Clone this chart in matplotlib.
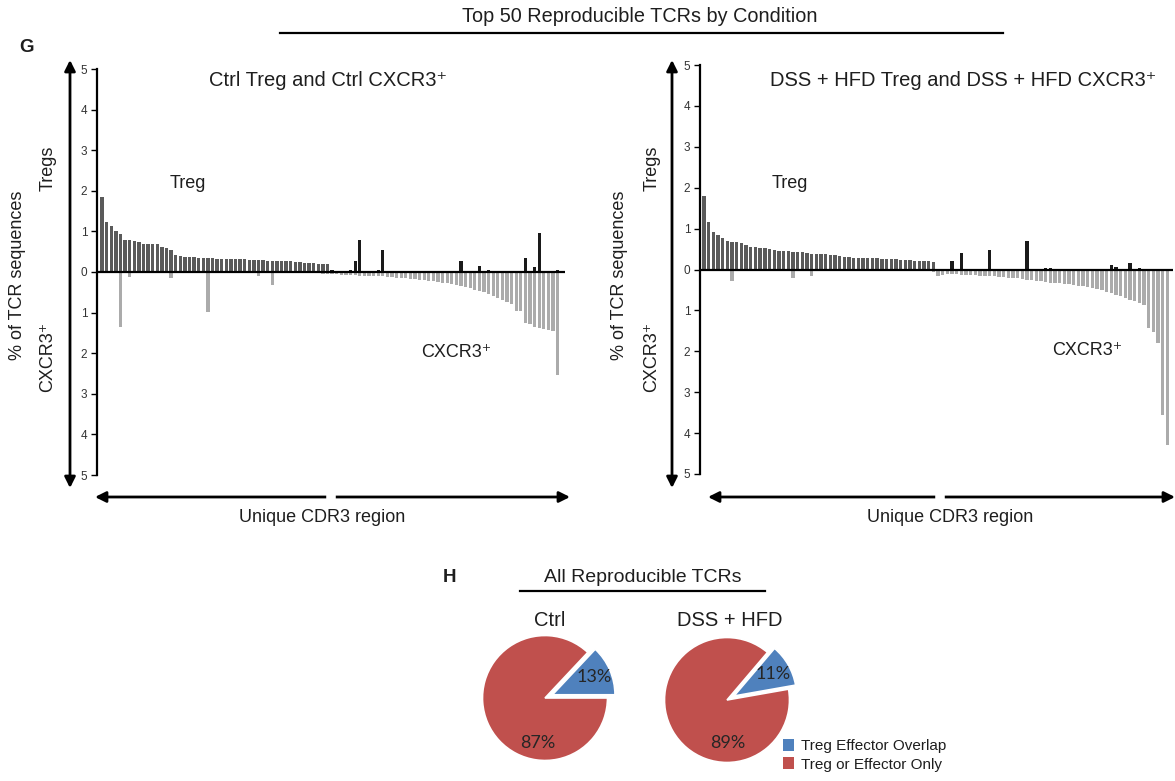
import matplotlib
matplotlib.use("Agg")
import matplotlib.pyplot as plt
from matplotlib.patches import FancyArrowPatch, Patch
from matplotlib.lines import Line2D
import numpy as np

plt.rcParams['font.family'] = ['Liberation Sans', 'DejaVu Sans']

W, H = 1175, 781

# ---------------- data ----------------
# positions 0-49: top 50 Treg clones (sorted); 50-99: top 50 CXCR3+ clones (sorted)
ctrl_treg = [1.85, 1.24, 1.14, 1.00, 0.93, 0.79, 0.78, 0.76, 0.73, 0.69,
             0.68, 0.68, 0.68, 0.61, 0.59, 0.53, 0.43, 0.40, 0.38, 0.37,
             0.36, 0.35, 0.34, 0.34, 0.34, 0.33, 0.33, 0.33, 0.32, 0.32,
             0.31, 0.31, 0.30, 0.30, 0.29, 0.29, 0.28, 0.28, 0.27, 0.27,
             0.26, 0.26, 0.25, 0.24, 0.23, 0.22, 0.21, 0.20, 0.19, 0.19,
             0.05, 0.02, 0.00, 0.00, 0.04, 0.28, 0.78, 0.00, 0.00, 0.00,
             0.04, 0.55, 0.02, 0.02, 0.02, 0.00, 0.02, 0.00, 0.00, 0.00,
             0.02, 0.00, 0.00, 0.00, 0.00, 0.00, 0.00, 0.03, 0.26, 0.00,
             0.00, 0.03, 0.15, 0.00, 0.05, 0.00, 0.00, 0.00, 0.00, 0.00,
             0.00, 0.03, 0.34, 0.00, 0.12, 0.95, 0.00, 0.03, 0.00, 0.06]
ctrl_cxcr3 = [0.00, 0.00, 0.00, 0.00, 1.36, 0.00, 0.12, 0.00, 0.00, 0.00,
              0.00, 0.00, 0.00, 0.00, 0.00, 0.15, 0.00, 0.00, 0.02, 0.00,
              0.00, 0.00, 0.00, 0.98, 0.00, 0.00, 0.00, 0.00, 0.00, 0.00,
              0.00, 0.00, 0.00, 0.00, 0.10, 0.00, 0.00, 0.33, 0.00, 0.00,
              0.00, 0.00, 0.00, 0.00, 0.00, 0.00, 0.00, 0.00, 0.05, 0.05,
              0.06, 0.06, 0.07, 0.07, 0.08, 0.08, 0.09, 0.09, 0.10, 0.10,
              0.10, 0.11, 0.12, 0.13, 0.14, 0.15, 0.16, 0.17, 0.18, 0.19,
              0.20, 0.21, 0.22, 0.24, 0.26, 0.28, 0.30, 0.32, 0.34, 0.37,
              0.40, 0.44, 0.47, 0.50, 0.55, 0.60, 0.65, 0.70, 0.75, 0.78,
              0.95, 0.97, 1.25, 1.28, 1.35, 1.38, 1.40, 1.42, 1.45, 2.53]

dss_treg = [1.79, 1.15, 0.92, 0.84, 0.78, 0.70, 0.68, 0.68, 0.66, 0.59,
            0.55, 0.55, 0.53, 0.52, 0.51, 0.47, 0.45, 0.45, 0.45, 0.44,
            0.44, 0.44, 0.41, 0.38, 0.37, 0.37, 0.37, 0.36, 0.36, 0.33,
            0.31, 0.30, 0.29, 0.29, 0.28, 0.28, 0.27, 0.27, 0.26, 0.26,
            0.25, 0.25, 0.24, 0.24, 0.23, 0.22, 0.22, 0.21, 0.20, 0.19,
            0.00, 0.02, 0.02, 0.20, 0.02, 0.40, 0.02, 0.00, 0.02, 0.00,
            0.00, 0.47, 0.00, 0.00, 0.00, 0.00, 0.00, 0.02, 0.00, 0.70,
            0.00, 0.00, 0.00, 0.03, 0.03, 0.00, 0.00, 0.00, 0.00, 0.02,
            0.00, 0.00, 0.00, 0.00, 0.00, 0.00, 0.00, 0.10, 0.06, 0.00,
            0.00, 0.15, 0.00, 0.03, 0.00, 0.02, 0.00, 0.00, 0.00, 0.00]
dss_cxcr3 = [0.00, 0.00, 0.00, 0.03, 0.00, 0.00, 0.27, 0.00, 0.00, 0.00,
             0.00, 0.00, 0.00, 0.00, 0.00, 0.00, 0.03, 0.00, 0.00, 0.22,
             0.00, 0.00, 0.00, 0.16, 0.00, 0.00, 0.00, 0.00, 0.00, 0.00,
             0.00, 0.00, 0.00, 0.00, 0.00, 0.00, 0.00, 0.00, 0.00, 0.00,
             0.00, 0.00, 0.00, 0.00, 0.00, 0.00, 0.00, 0.00, 0.00, 0.05,
             0.15, 0.14, 0.12, 0.12, 0.12, 0.13, 0.13, 0.14, 0.14, 0.15,
             0.15, 0.16, 0.17, 0.18, 0.19, 0.20, 0.21, 0.22, 0.23, 0.25,
             0.26, 0.27, 0.29, 0.31, 0.32, 0.33, 0.34, 0.35, 0.36, 0.38,
             0.40, 0.41, 0.43, 0.45, 0.47, 0.50, 0.54, 0.58, 0.62, 0.66,
             0.70, 0.74, 0.78, 0.83, 0.88, 1.42, 1.53, 1.80, 3.56, 4.30]

ytick_vals = [-5, -4, -3, -2, -1, 0, 1, 2, 3, 4, 5]

pie_groups = ["Ctrl", "DSS + HFD"]
pie_labels = ["Treg Effector Overlap", "Treg or Effector Only"]
ctrl_pie = [13, 87]
dss_pie = [11, 89]
pie_colors = ["#4F81BD", "#C0504D"]

TREG_COLOR = "#5a5a5a"
TREG_OTHER = "#1a1a1a"
CX_COLOR = "#ababab"
TXT = "#1e1e1e"
SUP = "\u207a"

fig = plt.figure(figsize=(W / 100, H / 100), dpi=100)


def px_axes(x0, y0, x1, y1):
    return fig.add_axes([x0 / W, 1 - y1 / H, (x1 - x0) / W, (y1 - y0) / H])


def fp(x, y):
    return (x / W, 1 - y / H)


def ftext(x, y, s, **kw):
    kw.setdefault('color', TXT)
    fig.text(x / W, 1 - y / H, s, **kw)


def fline(x0, y0, x1, y1, **kw):
    fig.add_artist(Line2D([x0 / W, x1 / W], [1 - y0 / H, 1 - y1 / H],
                          transform=fig.transFigure, **kw))


def farrow(x0, y0, x1, y1, lw=2.0, ms=16):
    fig.add_artist(FancyArrowPatch(fp(x0, y0), fp(x1, y1),
                                   transform=fig.transFigure,
                                   arrowstyle='<|-|>', mutation_scale=ms,
                                   lw=lw, color='black', shrinkA=0, shrinkB=0))


def bar_panel(ax, treg, cxcr3, xlim):
    n = len(treg)
    x = np.arange(n)
    colors = [TREG_COLOR if i < n // 2 else TREG_OTHER for i in range(n)]
    ax.bar(x, treg, width=0.72, color=colors, linewidth=0)
    ax.bar(x, -np.array(cxcr3), width=0.72, color=CX_COLOR, linewidth=0)
    ax.axhline(0, color='black', lw=1.6, zorder=3)
    ax.set_xlim(*xlim)
    ax.set_ylim(-5, 5)
    ax.set_yticks(ytick_vals)
    ax.set_yticklabels([str(abs(v)) for v in ytick_vals])
    ax.tick_params(axis='y', direction='out', length=4, width=1,
                   labelsize=8.5, labelcolor='#333333', pad=3)
    ax.set_xticks([])
    for s in ['top', 'right', 'bottom']:
        ax.spines[s].set_visible(False)
    ax.spines['left'].set_linewidth(1.6)


# ---------------- panel G ----------------
ax1 = px_axes(97, 69, 565, 475)
bar_panel(ax1, ctrl_treg, ctrl_cxcr3, (-1.1, 100.6))
ax2 = px_axes(700, 65, 1173, 474)
bar_panel(ax2, dss_treg, dss_cxcr3, (-0.85, 100.2))

ftext(640, 17, "Top 50 Reproducible TCRs by Condition", fontsize=14.3,
      ha='center', va='center')
fline(280, 33, 1003, 33, color='black', lw=1.6)
ftext(27, 47, "G", fontsize=13.5, fontweight='bold', ha='center', va='center')

ftext(328, 80, "Ctrl Treg and Ctrl CXCR3" + SUP, fontsize=14.5, ha='center', va='center')
ftext(963, 80, "DSS + HFD Treg and DSS + HFD CXCR3" + SUP, fontsize=14.5,
      ha='center', va='center')

ftext(188, 183, "Treg", fontsize=13, ha='center', va='center')
ftext(456, 352, "CXCR3" + SUP, fontsize=13, ha='center', va='center')
ftext(790, 183, "Treg", fontsize=13, ha='center', va='center')
ftext(1087, 351, "CXCR3" + SUP, fontsize=13, ha='center', va='center')

for (ax_x, lab_x, pct_x) in [(70, 48, 18), (672, 652, 620)]:
    farrow(ax_x, 60, ax_x, 488)
    ftext(lab_x, 168, "Tregs", fontsize=13, rotation=90, ha='center', va='center')
    ftext(lab_x, 357, "CXCR3" + SUP, fontsize=13, rotation=90, ha='center', va='center')
    ftext(pct_x, 275, "% of TCR sequences", fontsize=13, rotation=90,
          ha='center', va='center')

for (x0, x1, gap, lx) in [(95, 570, 331, 322), (708, 1175, 940, 950)]:
    farrow(x0, 497, x1, 497)
    fline(gap - 2, 497, gap + 2, 497, color='white', lw=4, zorder=5)
    ftext(lx, 517, "Unique CDR3 region", fontsize=13, ha='center', va='center')

# ---------------- panel H ----------------
ftext(450, 578, "H", fontsize=13.5, fontweight='bold', ha='center', va='center')
ftext(643, 578, "All Reproducible TCRs", fontsize=14, ha='center', va='center')
fline(520, 591, 765, 591, color='black', lw=1.6)

pie_specs = [(ctrl_pie, 545, 698, 550, 0, (538, 743)),
             (dss_pie, 727, 700, 730, 10, (728, 743))]
for i, (vals, cx, cy, tx, start, big_pos) in enumerate(pie_specs):
    ftext(tx, 620, pie_groups[i], fontsize=14.5, ha='center', va='center')
    axp = px_axes(cx - 75, cy - 75, cx + 75, cy + 75)
    wedges, texts, autotexts = axp.pie(
        vals, colors=pie_colors, startangle=start, counterclock=True,
        explode=[0.13, 0], autopct='%d%%', pctdistance=0.72,
        wedgeprops=dict(edgecolor='white', linewidth=1.2),
        textprops=dict(fontsize=13, color='#262626', family='Lato'))
    axp.set_xlim(-1.2, 1.2)
    axp.set_ylim(-1.2, 1.2)
    axp.set_aspect('equal')
    axp.axis('off')
    # move large-slice label to bottom of pie
    bx, by = big_pos
    autotexts[1].set_position(((bx - cx) / 62.5, -(by - cy) / 62.5))

handles = [Patch(facecolor=c, edgecolor='none') for c in pie_colors]
fig.legend(handles, pie_labels, loc='upper left',
           bbox_to_anchor=(783 / W, 1 - 739 / H), frameon=False, fontsize=11,
           handlelength=0.75, handleheight=0.85, handletextpad=0.45,
           labelspacing=0.25, borderpad=0, borderaxespad=0, labelcolor=TXT)

fig.savefig("out.png", dpi=100, facecolor='white')
